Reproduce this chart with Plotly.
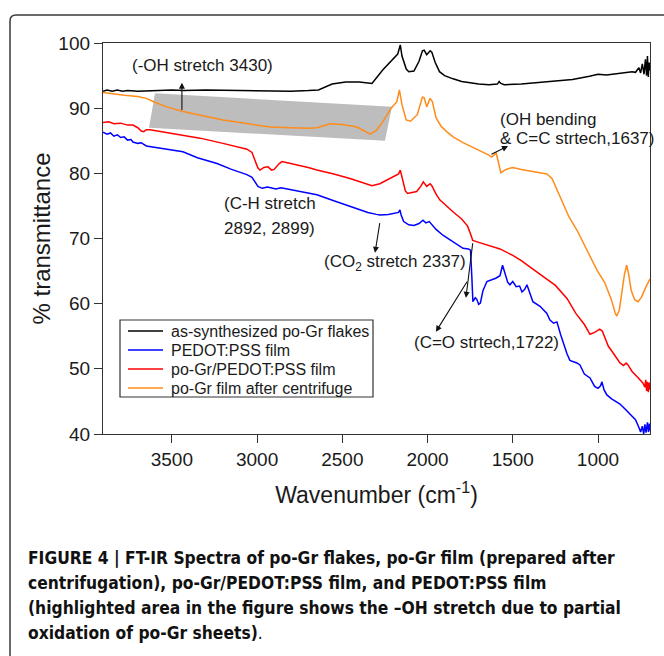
import plotly.graph_objects as go

# ---------------- data ----------------
black_wn = [3904, 3880, 3850, 3820, 3790, 3760, 3700, 3600, 3500, 3430, 3300, 3100, 2900, 2800, 2700, 2640,
            2560, 2480, 2400, 2326, 2262, 2200, 2175, 2160, 2150, 2125, 2110, 2080, 2050, 2030, 2020, 2005,
            1985, 1975, 1955, 1930, 1900, 1850, 1800, 1700, 1640, 1590, 1580, 1570, 1550, 1450, 1350, 1250,
            1150, 1050, 1000, 950, 900, 850, 800, 780, 760, 750, 740, 730, 722, 715, 710, 705, 700, 695]
black_t = [92.6, 92.8, 92.6, 92.8, 92.6, 92.7, 92.6, 92.7, 92.8, 92.7, 92.8, 92.7, 92.6, 92.6, 92.7, 92.8,
           93.7, 94.0, 94.0, 93.8, 95.9, 97.6, 98.3, 99.7, 98.0, 96.0, 95.6, 95.7, 97.2, 98.8, 98.9, 98.2,
           98.8, 98.6, 97.0, 95.6, 95.0, 94.5, 94.1, 93.7, 93.6, 93.7, 94.1, 93.8, 93.6, 93.7, 93.9, 94.1,
           94.4, 94.9, 95.2, 95.1, 95.3, 95.4, 95.6, 95.5, 96.2, 95.4, 96.8, 95.2, 97.5, 95.0, 98.0, 94.8, 97.0, 95.8]

blue_wn = [3904, 3880, 3860, 3840, 3820, 3800, 3780, 3760, 3740, 3728, 3700, 3680, 3650, 3628, 3600, 3500,
           3435, 3350, 3235, 3150, 3060, 3030, 3010, 2995, 2970, 2940, 2920, 2890, 2860, 2800, 2700, 2649,
           2550, 2455, 2350, 2300, 2279, 2230, 2200, 2170, 2162, 2155, 2140, 2110, 2080, 2050, 2027, 2010,
           1990, 1975, 1950, 1910, 1850, 1792, 1760, 1748, 1740, 1734, 1720, 1712, 1700, 1690, 1675, 1652,
           1600, 1575, 1560, 1545, 1530, 1517, 1500, 1480, 1460, 1446, 1430, 1417, 1400, 1382, 1340, 1300,
           1282, 1260, 1241, 1220, 1182, 1165, 1124, 1106, 1080, 1047, 1020, 1000, 985, 977, 965, 948,
           920, 871, 840, 800, 780, 760, 750, 740, 732, 725, 718, 710, 704, 698, 695]
blue_t = [86.3, 86.0, 86.2, 85.7, 85.9, 85.5, 85.6, 85.1, 85.2, 84.8, 84.6, 84.7, 84.2, 84.1, 84.0, 83.6,
          83.3, 82.4, 81.5, 80.6, 79.8, 79.4, 78.6, 78.0, 77.7, 77.9, 77.8, 77.6, 77.8, 77.5, 77.0, 76.7,
          75.8, 74.9, 74.0, 73.7, 73.6, 73.7, 73.9, 74.0, 74.4, 73.6, 72.6, 72.1, 72.0, 72.3, 72.8, 72.4,
          72.6, 72.1, 71.4, 70.5, 69.5, 68.5, 68.4, 68.2, 64.0, 60.3, 60.9, 60.7, 59.9, 60.1, 62.0, 63.4,
          63.9, 64.3, 65.9, 64.5, 63.3, 62.9, 63.4, 62.6, 62.7, 61.8, 62.2, 62.9, 61.5, 60.3, 59.6, 58.5,
          57.5, 57.0, 57.2, 55.3, 52.3, 51.3, 50.9, 50.6, 49.2, 48.6, 47.3, 47.0, 47.4, 48.0, 46.8, 46.0,
          45.4, 44.6, 43.8, 42.8, 42.2, 41.0, 40.3, 41.2, 40.0, 41.5, 40.2, 41.8, 40.3, 41.6, 40.5]

red_wn = [3904, 3870, 3840, 3800, 3760, 3728, 3700, 3680, 3665, 3650, 3628, 3500, 3335, 3200, 3100, 3059,
          3030, 3012, 2995, 2983, 2960, 2936, 2915, 2900, 2870, 2854, 2800, 2700, 2649, 2550, 2455, 2380,
          2326, 2280, 2230, 2190, 2170, 2160, 2150, 2130, 2117, 2064, 2040, 2025, 2005, 1985, 1975, 1950,
          1927, 1890, 1851, 1800, 1765, 1745, 1735, 1700, 1650, 1575, 1500, 1450, 1382, 1300, 1250, 1182,
          1130, 1080, 1047, 1020, 990, 975, 940, 900, 871, 850, 835, 824, 800, 770, 750, 736, 725, 720,
          715, 710, 705, 700, 695]
red_t = [87.8, 87.9, 87.6, 87.7, 87.4, 87.4, 87.0, 86.5, 86.4, 86.7, 86.7, 86.1, 85.4, 84.6, 84.0, 83.7,
         83.2, 82.0, 80.8, 80.5, 80.9, 81.0, 80.5, 80.6, 81.5, 81.8, 81.5, 80.9, 80.5, 79.9, 79.2, 78.5,
         78.1, 78.4, 79.1, 79.7, 79.9, 80.5, 79.5, 77.3, 76.9, 77.2, 78.0, 78.7, 78.0, 78.4, 78.1, 76.8,
         75.9, 75.0, 74.1, 73.0, 71.9, 70.5, 69.7, 69.4, 69.0, 68.4, 67.4, 66.6, 65.3, 63.8, 62.8, 60.8,
         58.5, 56.8, 55.3, 55.6, 56.1, 55.8, 53.5, 52.0, 50.9, 50.5, 50.9, 50.6, 49.6, 48.8, 48.2, 47.8, 47.2, 48.3,
         46.6, 48.0, 46.4, 47.9, 46.8]

orange_wn = [3904, 3850, 3780, 3700, 3650, 3600, 3530, 3435, 3300, 3200, 3050, 2924, 2800, 2700, 2649, 2600,
             2570, 2500, 2414, 2370, 2338, 2300, 2260, 2214, 2180, 2165, 2150, 2125, 2100, 2060, 2030, 2020,
             2005, 1985, 1972, 1950, 1920, 1888, 1850, 1792, 1720, 1660, 1640, 1625, 1610, 1598, 1585, 1570,
             1540, 1500, 1450, 1350, 1300, 1270, 1240, 1206, 1170, 1124, 1070, 1007, 960, 920, 900, 890,
             875, 860, 845, 832, 820, 805, 785, 765, 745, 720, 695]
orange_t = [92.4, 92.2, 92.0, 91.8, 91.5, 90.9, 90.2, 89.5, 88.7, 88.2, 87.6, 87.1, 87.0, 86.9, 87.0, 87.4,
            87.6, 87.5, 87.1, 86.5, 86.0, 86.6, 88.0, 90.0, 91.0, 92.8, 90.5, 88.2, 88.0, 89.0, 91.7, 91.6,
            90.2, 91.5, 91.0, 88.5, 87.2, 86.4, 85.6, 84.7, 83.8, 83.1, 82.8, 82.5, 82.8, 83.2, 81.5, 80.1,
            80.6, 80.9, 80.6, 80.2, 79.9, 79.2, 77.5, 75.6, 73.3, 71.3, 68.5, 65.2, 63.2, 60.5, 58.6, 58.1,
            59.0, 61.5, 64.5, 65.9, 64.5, 62.0, 60.6, 60.3, 61.0, 62.5, 63.8]

series_names = ["as-synthesized po-Gr flakes", "PEDOT:PSS film", "po-Gr/PEDOT:PSS film", "po-Gr film after centrifuge"]
series_colors = ["#000000", "#0000ff", "#ff0000", "#ff8c1a"]

# highlighted -OH region (wavenumber, %T corners)
highlight_wn = [3599, 2209, 2250, 3634]
highlight_t = [92.3, 90.2, 85.0, 87.0]

x_ticks = [3500, 3000, 2500, 2000, 1500, 1000]
y_ticks = [40, 50, 60, 70, 80, 90, 100]

caption_lines = [
    "<b>FIGURE 4 | FT-IR Spectra of po-Gr flakes, po-Gr film (prepared after</b>",
    "<b>centrifugation), po-Gr/PEDOT:PSS film, and PEDOT:PSS film</b>",
    "<b>(highlighted area in the figure shows the \u2013OH stretch due to partial</b>",
    "<b>oxidation of po-Gr sheets)</b>.",
]

# ---------------- figure ----------------
FONT = "Liberation Sans, Arial, sans-serif"
TXT = "#1a1a1a"
fig = go.Figure()
xs = [black_wn, blue_wn, red_wn, orange_wn]
ys = [black_t, blue_t, red_t, orange_t]
for name, col, x, y in zip(series_names, series_colors, xs, ys):
    fig.add_trace(go.Scatter(x=x, y=y, mode="lines", name=name, showlegend=False,
                             line=dict(color=col, width=1.5)))

# highlighted area
path = "M " + " L ".join(f"{a},{b}" for a, b in zip(highlight_wn, highlight_t)) + " Z"
fig.add_shape(type="path", path=path, xref="x", yref="y", fillcolor="#bdbdbd",
              line=dict(width=0), layer="below")

# pixel -> paper helpers (plot area spans x 103..650, y 43..434)
px2x = lambda px: (px - 103) / 547
py2y = lambda py: (434 - py) / 391

# outer figure frame (rounded corner at top-left)
L, T, R, B = px2x(10), py2y(15), px2x(700), py2y(700)
rx, ry = 6 / 547, 6 / 391
fig.add_shape(type="path", xref="paper", yref="paper",
              path=f"M {L},{B} L {L},{T-ry} Q {L},{T} {L+rx},{T} L {R},{T}",
              line=dict(color="#3a3a3a", width=1.5))

# legend box (drawn to match the original's compact rows)
fig.add_shape(type="rect", xref="paper", yref="paper", x0=px2x(120), x1=px2x(373),
              y0=py2y(397), y1=py2y(320), line=dict(color="#333333", width=1.2), fillcolor="white")
for i, (name, col) in enumerate(zip(series_names, series_colors)):
    yy = py2y(331 + 19 * i)
    fig.add_shape(type="line", xref="paper", yref="paper", x0=px2x(128), x1=px2x(163), y0=yy, y1=yy,
                  line=dict(color=col, width=1.5))
    fig.add_annotation(text=name, xref="paper", yref="paper", x=px2x(169), y=yy, xanchor="left",
                       yanchor="middle", showarrow=False, font=dict(family=FONT, size=16, color=TXT))

ann_font = dict(family=FONT, size=17, color=TXT)
texts = [
    ("(-OH stretch 3430)", 3746, 96.6),
    ("(OH bending", 1587, 88.3),
    ("& C=C strtech,1637)", 1587, 85.4),
    ("(C-H stretch", 3206, 75.3),
    ("2892, 2899)", 3206, 71.6),
    ("(CO<sub>2</sub> stretch 2337)", 2619, 66.3),
    ("(C=O strtech,1722)", 2091, 54.0),
]
for t, x, y in texts:
    fig.add_annotation(text=t, x=x, y=y, xref="x", yref="y", xanchor="left", yanchor="middle",
                       showarrow=False, font=ann_font)

arrows = [  # head (x,y), tail (ax,ay)
    (3441, 93.9, 3441, 89.5),
    (1528, 84.2, 1634, 82.8),
    (2308, 67.8, 2279, 72.6),
    (1775, 60.9, 1734, 69.5),
    (1951, 55.7, 1763, 63.6),
]
for x, y, ax, ay in arrows:
    fig.add_annotation(text="", x=x, y=y, ax=ax, ay=ay, xref="x", yref="y", axref="x", ayref="y",
                       showarrow=True, arrowhead=2, arrowsize=1.1, arrowwidth=1.1, arrowcolor="#111111",
                       standoff=0, startstandoff=0)

cap_y = [558, 583, 608, 633]
for line, py in zip(caption_lines, cap_y):
    fig.add_annotation(text=line, xref="paper", yref="paper", x=px2x(26), y=py2y(py),
                       xanchor="left", yanchor="middle", showarrow=False,
                       font=dict(family="DejaVu Sans Condensed, Liberation Sans, sans-serif",
                                 size=17.3, color="#111111"))

axis_common = dict(showgrid=False, zeroline=False, ticks="outside", ticklen=8, tickwidth=1.3,
                   tickcolor="#333333", showline=True, linecolor="#333333", linewidth=1.3, mirror=True,
                   tickfont=dict(family=FONT, size=19, color=TXT))
fig.update_xaxes(range=[3904, 695], tickvals=x_ticks, ticktext=[str(v) for v in x_ticks],
                 title=dict(text="Wavenumber (cm<sup>-1</sup>)", font=dict(family=FONT, size=23, color=TXT),
                            standoff=17), **axis_common)
fig.update_yaxes(range=[40, 100], tickvals=y_ticks, ticktext=[str(v) for v in y_ticks],
                 title=dict(text="% transmittance", font=dict(family=FONT, size=24, color=TXT),
                            standoff=0), **axis_common)

fig.update_layout(
    width=664, height=656, margin=dict(l=103, r=14, t=43, b=222),
    paper_bgcolor="white", plot_bgcolor="white",
    font=dict(family=FONT),
    showlegend=False,
)

fig.write_html("out.html")
